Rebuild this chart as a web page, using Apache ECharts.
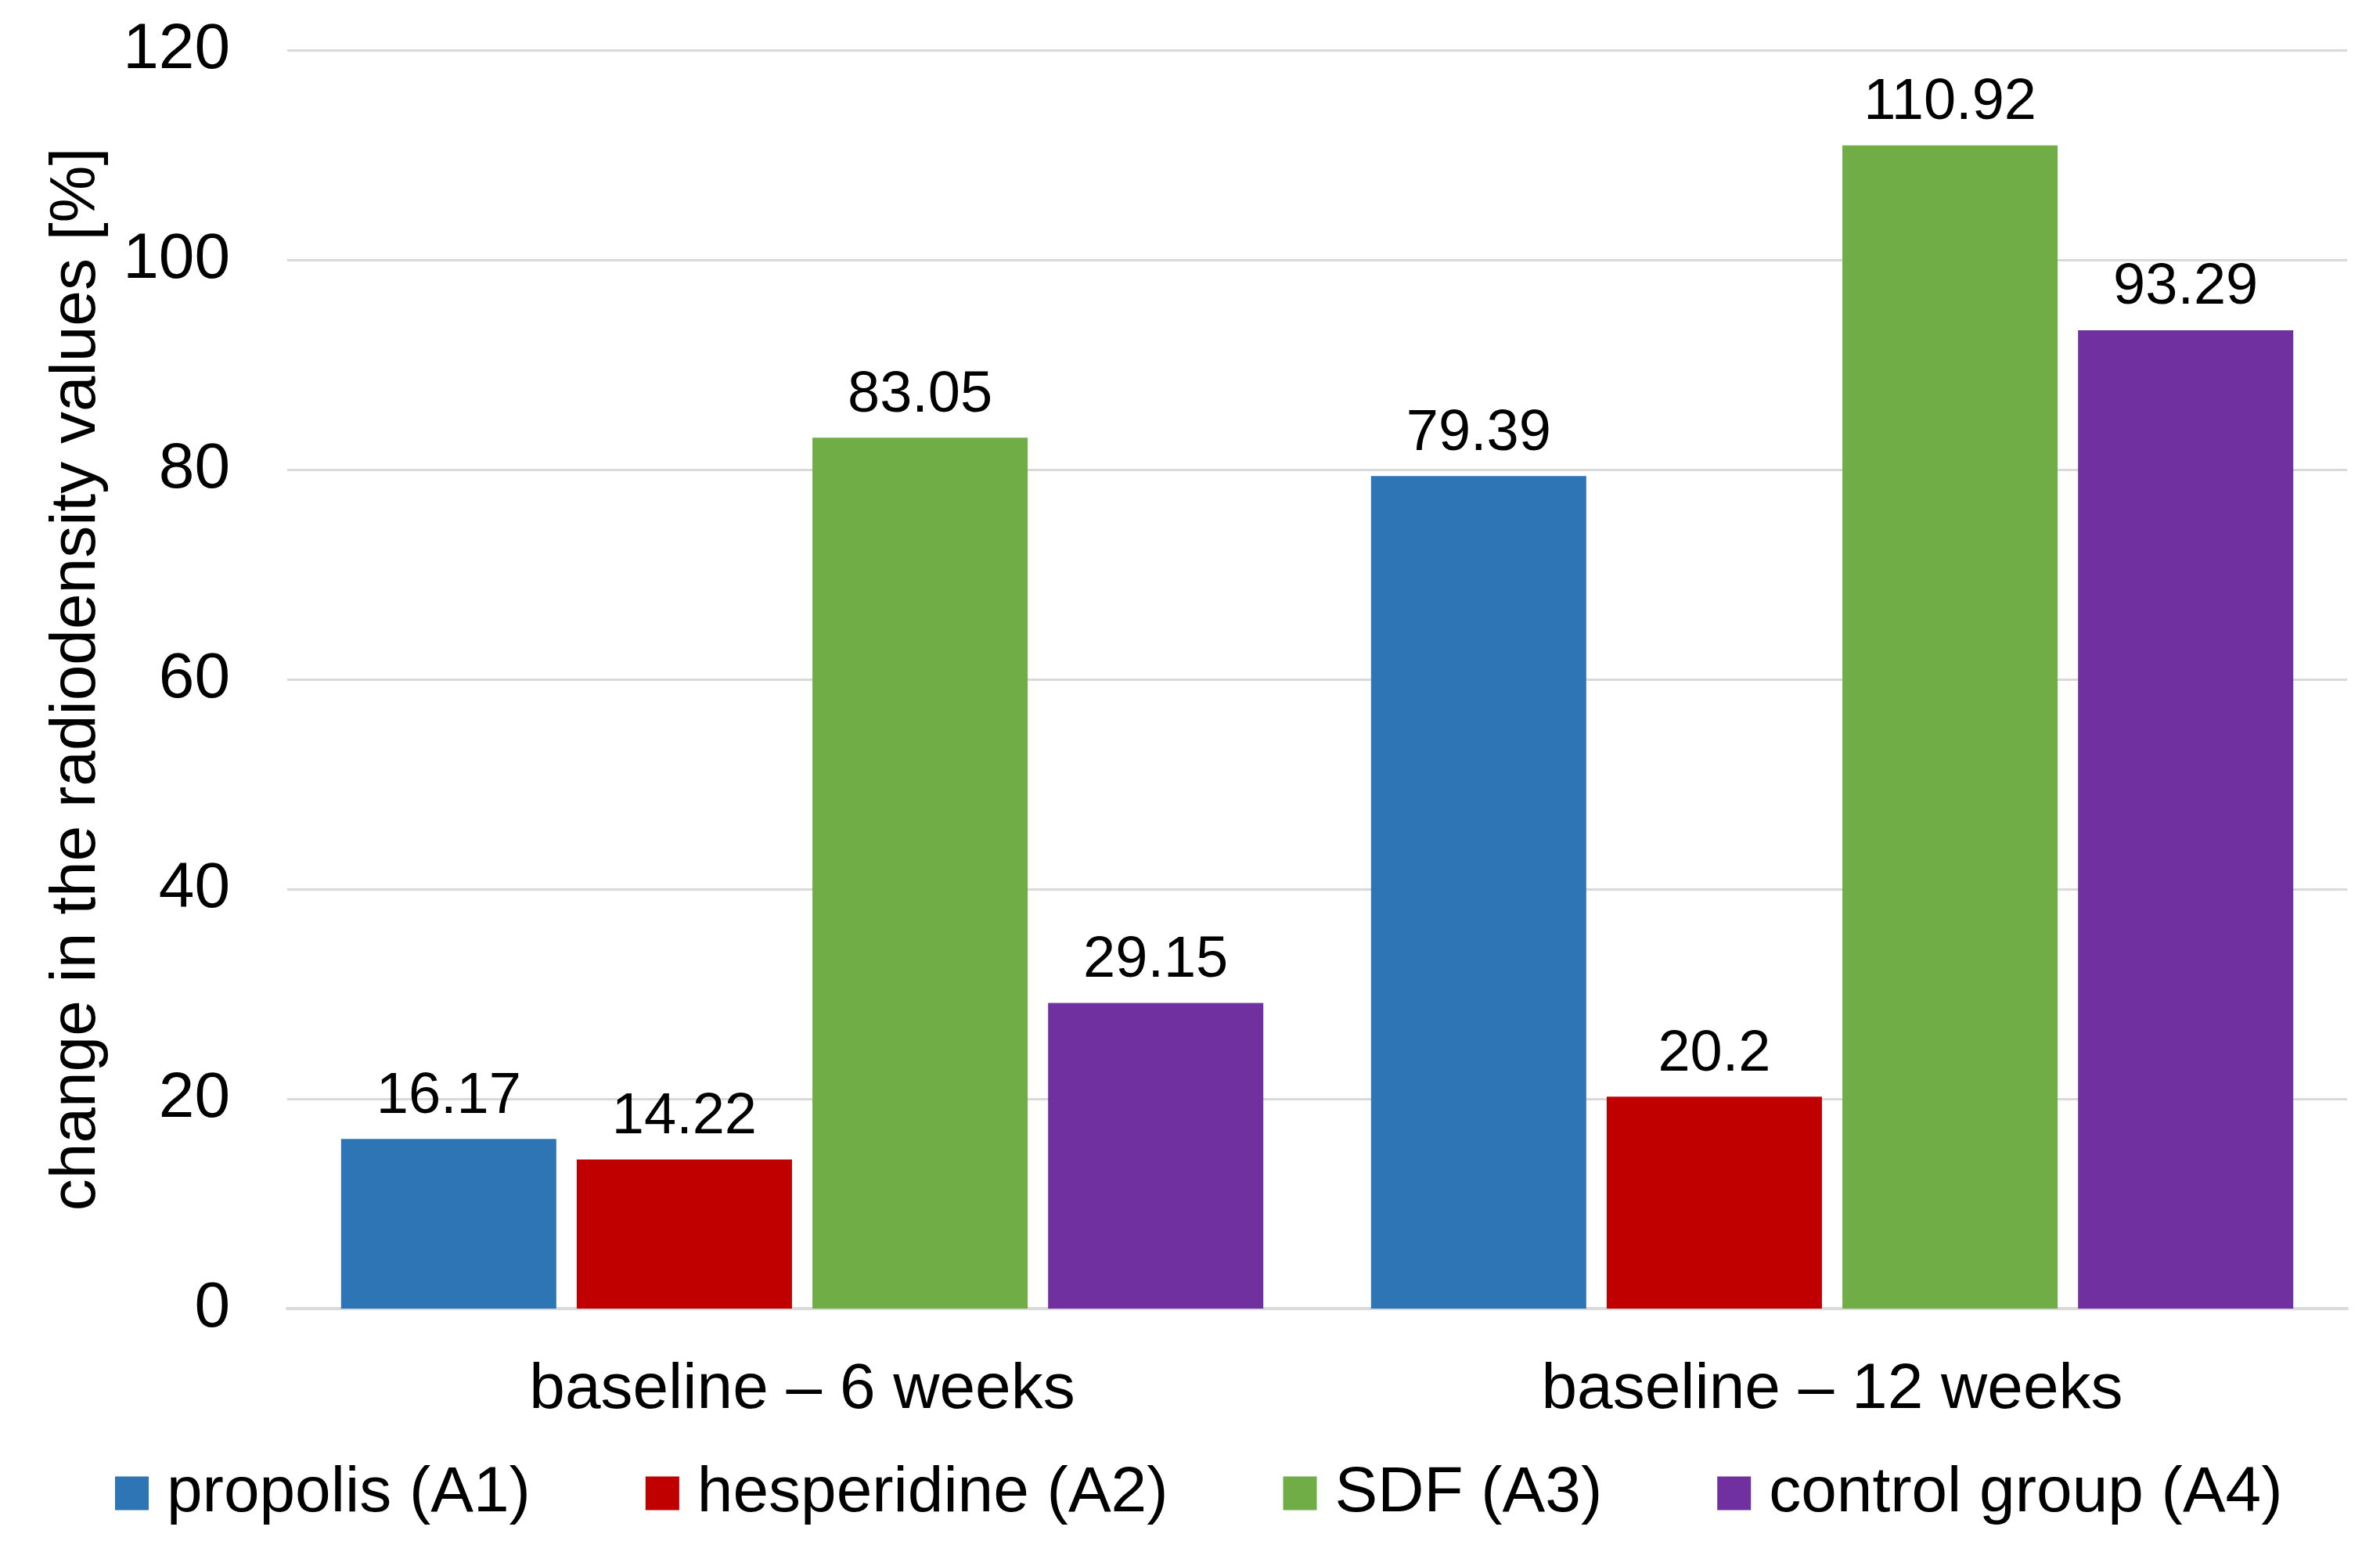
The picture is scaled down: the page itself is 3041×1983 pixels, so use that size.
<!DOCTYPE html>
<html>
<head>
<meta charset="utf-8">
<script src="https://cdn.jsdelivr.net/npm/echarts@6/dist/echarts.min.js"></script>
<style>html,body{margin:0;padding:0;background:#fff}#c{width:3041px;height:1983px}</style>
</head>
<body>
<div id="c"></div>
<script>
const categories = ['baseline \u2013 6 weeks', 'baseline \u2013 12 weeks'];
const seriesNames = ['propolis (A1)', 'hesperidine (A2)', 'SDF (A3)', 'control group (A4)'];
const propolis = [16.17, 79.39];
const hesperidine = [14.22, 20.2];
const sdf = [83.05, 110.92];
const control = [29.15, 93.29];
const colors = ['#2E75B6', '#C00000', '#70AD47', '#7030A0'];
const yTicks = { min: 0, max: 120, interval: 20 };
const yTitle = 'change in the radiodensity values [%]';

const FONT = 'Liberation Sans, Arial, sans-serif';
const values = [propolis, hesperidine, sdf, control];

const chart = echarts.init(document.getElementById('c'), null, { renderer: 'canvas' });
chart.setOption({
  backgroundColor: '#fff',
  animation: false,
  textStyle: { fontFamily: FONT },
  grid: { left: 367, right: 42, top: 64, bottom: 311, containLabel: false },
  legend: {
    data: seriesNames,
    left: 142,
    top: 1862,
    icon: 'rect',
    itemWidth: 43,
    itemHeight: 43,
    itemGap: 147,
    textStyle: { fontSize: 82, color: '#000', fontFamily: FONT, padding: [0, 0, 0, 18], lineHeight: 82 }
  },
  xAxis: {
    type: 'category',
    data: categories,
    axisLine: { show: true, lineStyle: { color: '#D9D9D9', width: 4 } },
    axisTick: { show: false },
    axisLabel: { fontSize: 82, color: '#000', fontFamily: FONT, margin: 63 }
  },
  yAxis: {
    type: 'value',
    min: yTicks.min,
    max: yTicks.max,
    interval: yTicks.interval,
    name: yTitle,
    nameLocation: 'middle',
    nameGap: 228,
    nameTextStyle: { fontSize: 82, color: '#000', fontFamily: FONT },
    axisLine: { show: false },
    axisTick: { show: false },
    axisLabel: { fontSize: 82, color: '#000', fontFamily: FONT, margin: 73 },
    splitLine: { lineStyle: { color: '#D9D9D9', width: 3 } }
  },
  series: seriesNames.map((name, i) => ({
    name: name,
    type: 'bar',
    data: values[i],
    barWidth: 275,
    barGap: '9.5%',
    itemStyle: { color: colors[i] },
    label: {
      show: true,
      position: 'top',
      distance: 17,
      fontSize: 74,
      color: '#000',
      fontFamily: FONT
    }
  }))
});
</script>
</body>
</html>
